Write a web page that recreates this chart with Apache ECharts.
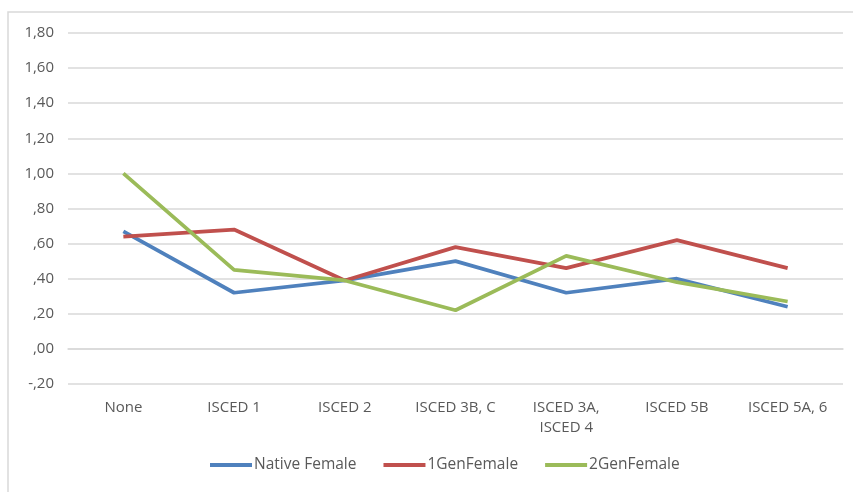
<!DOCTYPE html>
<html>
<head>
<meta charset="utf-8">
<script src="https://cdn.jsdelivr.net/npm/echarts@6/dist/echarts.min.js"></script>
<style>html,body{margin:0;padding:0;background:#fff;}#c{width:853px;height:492px;}</style>
</head>
<body>
<div id="c"></div>
<script>
const categories = ['None', 'ISCED 1', 'ISCED 2', 'ISCED 3B, C', 'ISCED 3A,\nISCED 4', 'ISCED 5B', 'ISCED 5A, 6'];
const nativeFemale = [0.67, 0.32, 0.39, 0.50, 0.32, 0.40, 0.24];
const gen1Female = [0.64, 0.68, 0.39, 0.58, 0.46, 0.62, 0.46];
const gen2Female = [1.00, 0.45, 0.39, 0.22, 0.53, 0.38, 0.27];
const seriesNames = ['Native Female', '1GenFemale', '2GenFemale'];
const colors = ['#4f81bd', '#c0504d', '#9bbb59'];

function fmt(v) {
  let s = (Math.round(v * 100) / 100).toFixed(2).replace('.', ',');
  s = s.replace(/^(-?)0,/, '$1,');
  return s;
}

const chart = echarts.init(document.getElementById('c'));
const font = 'Open Sans';
chart.setOption({
  animation: false,
  graphic: [{
    type: 'rect', shape: {x: 8, y: 12, width: 900, height: 600},
    style: {fill: 'none', stroke: '#d9d9d9', lineWidth: 1.5}, z: -1
  }],
  grid: {left: 68, right: 10, top: 33, bottom: 108},
  legend: {
    bottom: 14, left: 205, itemWidth: 42, itemHeight: 4, itemGap: 27,
    icon: 'rect',
    textStyle: {color: '#595959', fontSize: 15.5, fontFamily: font, padding: [0, 0, 0, -3]},
    data: seriesNames
  },
  xAxis: {
    type: 'category', data: categories, boundaryGap: true,
    axisLine: {show: true, lineStyle: {color: '#d9d9d9', width: 1.5}},
    axisTick: {show: false},
    axisLabel: {color: '#595959', fontSize: 15, fontFamily: font, margin: 14, lineHeight: 20, interval: 0}
  },
  yAxis: {
    type: 'value', min: -0.2, max: 1.8, interval: 0.2,
    axisLine: {show: false}, axisTick: {show: false},
    splitLine: {lineStyle: {color: '#d9d9d9', width: 1.5}},
    axisLabel: {color: '#595959', fontSize: 15, fontFamily: font, margin: 14, formatter: fmt}
  },
  series: [nativeFemale, gen1Female, gen2Female].map((d, i) => ({
    name: seriesNames[i], type: 'line', data: d, symbol: 'none',
    lineStyle: {color: colors[i], width: 3.75}, itemStyle: {color: colors[i]}
  }))
});
</script>
</body>
</html>
